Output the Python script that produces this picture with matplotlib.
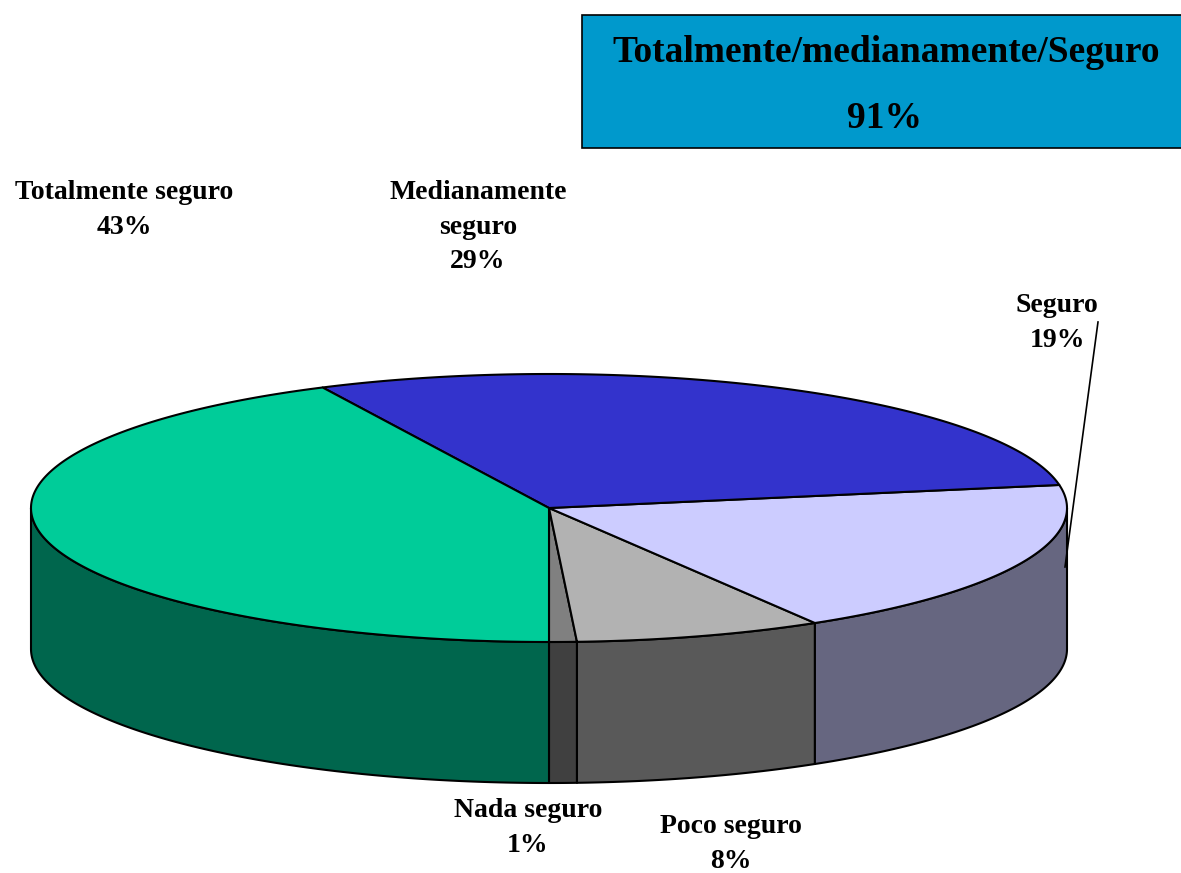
#!/usr/bin/env python3
"""
plot.py - 3D looking pie of security answers, drawn by hand from polygons
"""

import numpy as np
import matplotlib
matplotlib.use("Agg")
import matplotlib.pyplot as plt
from matplotlib.patches import Polygon, Rectangle

# order is counter-clockwise, starting at the bottom of the pie
categories = ["Nada seguro", "Poco seguro", "Seguro", "Medianamente\nseguro", "Totalmente seguro"]
percent_labels = [1, 8, 19, 29, 43]
shares = [0.86, 7.72, 19.17, 29.45, 42.8]
top_colors = ["#808080", "#B2B2B2", "#CCCCFF", "#3333CC", "#00CC99"]
side_colors = ["#404040", "#595959", "#666680", "#1A1A66", "#00664D"]
summary_title = "Totalmente/medianamente/Seguro"
summary_value = "91%"

W, H = 1181, 873
CX, CY, RX, RY, DEPTH = 549, 508, 518, 134, 141

plt.rcParams["font.family"] = ["Liberation Serif", "DejaVu Serif"]
plt.rcParams["font.weight"] = "bold"

fig = plt.figure(figsize=(W / 100, H / 100), dpi=100)
ax = fig.add_axes([0, 0, 1, 1])
ax.set_xlim(0, W)
ax.set_ylim(H, 0)
ax.axis("off")


def rim(t, drop=0):
    # t in degrees, measured counter-clockwise from the bottom
    r = np.radians(t)
    return np.column_stack([CX + RX * np.sin(r), CY + drop + RY * np.cos(r)])


edges = np.cumsum([0] + shares) * 3.6

# side walls first, only the front half of the rim can be seen
for i in range(len(shares)):
    start, end = edges[i], edges[i + 1]
    for lo, hi in [(start, min(end, 90)), (max(start, 270), end)]:
        if hi <= lo:
            continue
        t = np.linspace(lo, hi, 150)
        pts = np.vstack([rim(t), rim(t[::-1], DEPTH)])
        ax.add_patch(Polygon(pts, closed=True, facecolor=side_colors[i],
                             edgecolor="black", linewidth=1.5, joinstyle="round"))

# top of the pie
for i in range(len(shares)):
    t = np.linspace(edges[i], edges[i + 1], 200)
    pts = np.vstack([[CX, CY], rim(t)])
    ax.add_patch(Polygon(pts, closed=True, facecolor=top_colors[i],
                         edgecolor="black", linewidth=1.5, joinstyle="round"))

# summary box, runs off the right edge
ax.add_patch(Rectangle((581.5, 14.5), 620, 133, facecolor="#0099CC", edgecolor="black", linewidth=1.2))
ax.text(886, 53, summary_title, ha="center", va="center", fontsize=27, color="black")
ax.text(885, 118, summary_value, ha="center", va="center", fontsize=27, color="black")

# labels
label_pos = [(528, 828), (731, 844), (1057, 323), (478, 227), (124, 210)]
for name, val, (x, y) in zip(categories, percent_labels, label_pos):
    ax.text(x, y, f"{name}\n{val}%", ha="center", va="center", fontsize=20,
            linespacing=1.5, color="black")

# leader line for Seguro
ax.plot([1098, 1065], [322, 567], color="black", linewidth=1.2)

fig.savefig("out.png", dpi=100, facecolor="white")
